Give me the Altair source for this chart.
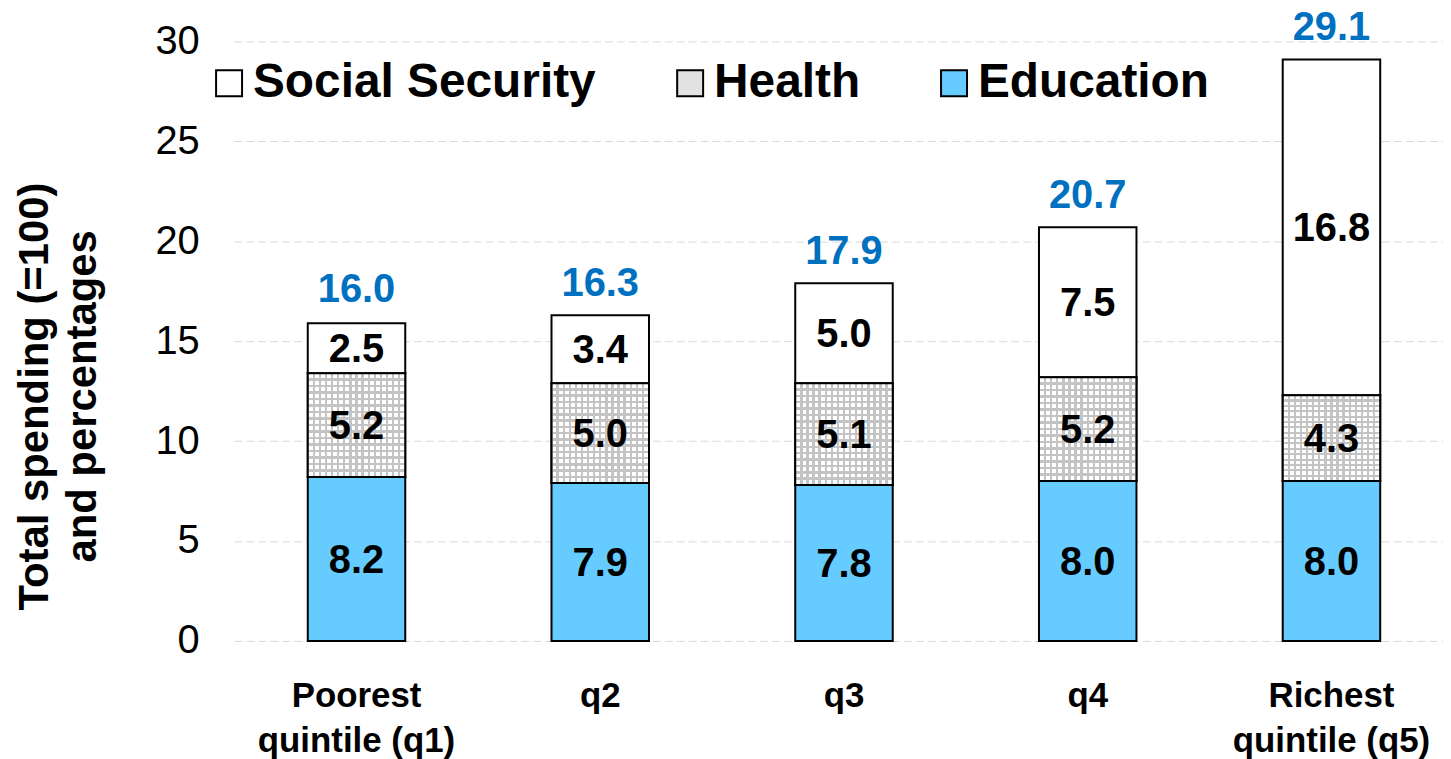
import altair as alt
import pandas as pd

categories = ["Poorest\nquintile (q1)", "q2", "q3", "q4", "Richest\nquintile (q5)"]
education = [8.2, 7.9, 7.8, 8.0, 8.0]
health = [5.2, 5.0, 5.1, 5.2, 4.3]
social = [2.5, 3.4, 5.0, 7.5, 16.8]
totals = [16.0, 16.3, 17.9, 20.7, 29.1]
series = ["Social Security", "Health", "Education"]

FONT = "Liberation Sans, Arial, Helvetica, sans-serif"
YTITLE = ["Total spending (=100)", "and percentages"]

rows = []
for i, c in enumerate(categories):
    y0 = 0.0
    for name, vals in [("Education", education), ("Health", health), ("Social Security", social)]:
        v = vals[i]
        rows.append({"cat": c, "series": name, "value": v, "y0": y0, "y1": y0 + v,
                     "mid": y0 + v / 2, "label": f"{v:.1f}"})
        y0 += v
seg = pd.DataFrame(rows)
tot = pd.DataFrame({"cat": categories, "total": totals, "label": [f"{t:.1f}" for t in totals]})

xscale = alt.Scale(domain=categories, paddingInner=0.6, paddingOuter=0.28, align=0.54, round=False)
yscale = alt.Scale(domain=[0, 30], nice=False)

x = alt.X("cat:N", scale=xscale, sort=categories, title=None,
          axis=alt.Axis(title=None, labelAngle=0, labelFont=FONT, labelFontSize=35,
                        labelFontWeight="bold", labelColor="black", labelPadding=38,
                        labelLineHeight=45, labelBaseline="top", labelLimit=500,
                        labelExpr="split(datum.value, '\\n')",
                        domain=False, ticks=False, grid=False))

y = alt.Y("y0:Q", scale=yscale, title=YTITLE,
          axis=alt.Axis(title=YTITLE,
                        values=[0, 5, 10, 15, 20, 25, 30],
                        labelFont=FONT, labelFontSize=40, labelColor="black",
                        labelPadding=35, domain=False, ticks=False,
                        grid=True, gridColor="#d9d9d9", gridDash=[8, 4], gridWidth=1,
                        titleFont=FONT, titleFontSize=42, titleFontWeight="bold",
                        titleColor="black", titleAngle=270, titleAlign="center",
                        titleBaseline="top", titleX=-220, titleY=356,
                        titleLineHeight=48))


def yq(field):
    return alt.Y(field, scale=yscale, title=YTITLE)


color = alt.Color("series:N",
                  scale=alt.Scale(domain=series, range=["white", "#e2e2e2", "#66CCFF"]),
                  legend=alt.Legend(title=None, orient="none", direction="horizontal",
                                    legendX=-29, legendY=18,
                                    labelFont=FONT, labelFontSize=48, labelFontWeight="bold",
                                    labelColor="black", symbolType="square", symbolSize=680,
                                    symbolStrokeColor="black", symbolStrokeWidth=2,
                                    symbolOpacity=1, labelOffset=0, columnPadding=70,
                                    labelLimit=600))

bars = alt.Chart(seg).mark_bar(stroke="black", strokeWidth=2, opacity=1).encode(
    x=x, y=y, y2="y1:Q", color=color)

# grid pattern for Health segments (two stripe gradients)
N = 16
gray = "#c4c4c4"
eps = 0.012
vstops = []
hstops = []
for k in range(N + 1):
    a = k / N
    lo, hi = max(0.0, a - eps), min(1.0, a + eps)
    vstops += [alt.GradientStop(color="white", offset=lo), alt.GradientStop(color=gray, offset=lo),
               alt.GradientStop(color=gray, offset=hi), alt.GradientStop(color="white", offset=hi)]
    hstops += [alt.GradientStop(color="rgba(255,255,255,0)", offset=lo), alt.GradientStop(color=gray, offset=lo),
               alt.GradientStop(color=gray, offset=hi), alt.GradientStop(color="rgba(255,255,255,0)", offset=hi)]

health_df = seg[seg["series"] == "Health"]
hv = alt.Chart(health_df).mark_bar(
    fill=alt.LinearGradient(gradient="linear", stops=vstops, x1=0, x2=1, y1=0, y2=0),
    strokeWidth=0).encode(x=x, y=yq("y0:Q"), y2="y1:Q")
hh = alt.Chart(health_df).mark_bar(
    fill=alt.LinearGradient(gradient="linear", stops=hstops, x1=0, x2=0, y1=0, y2=1),
    stroke="black", strokeWidth=2).encode(x=x, y=yq("y0:Q"), y2="y1:Q")

seglabels = alt.Chart(seg).mark_text(font=FONT, fontSize=40, fontWeight="bold", color="black",
                                     baseline="middle", dy=2).encode(
    x=x, y=yq("mid:Q"), text="label:N")

totlabels = alt.Chart(tot).mark_text(font=FONT, fontSize=40, fontWeight="bold", color="#0070C0",
                                     baseline="bottom", dy=-11).encode(
    x=x, y=yq("total:Q"), text="label:N")

chart = alt.layer(bars, hv, hh, seglabels, totlabels).properties(
    width=1214, height=602,
    autosize=alt.AutoSizeParams(type="none"),
    padding={"left": 227, "top": 32, "right": 0, "bottom": 118},
).configure_view(stroke=None)

chart.save("out.html", embed_options={"renderer": "svg", "actions": False})
